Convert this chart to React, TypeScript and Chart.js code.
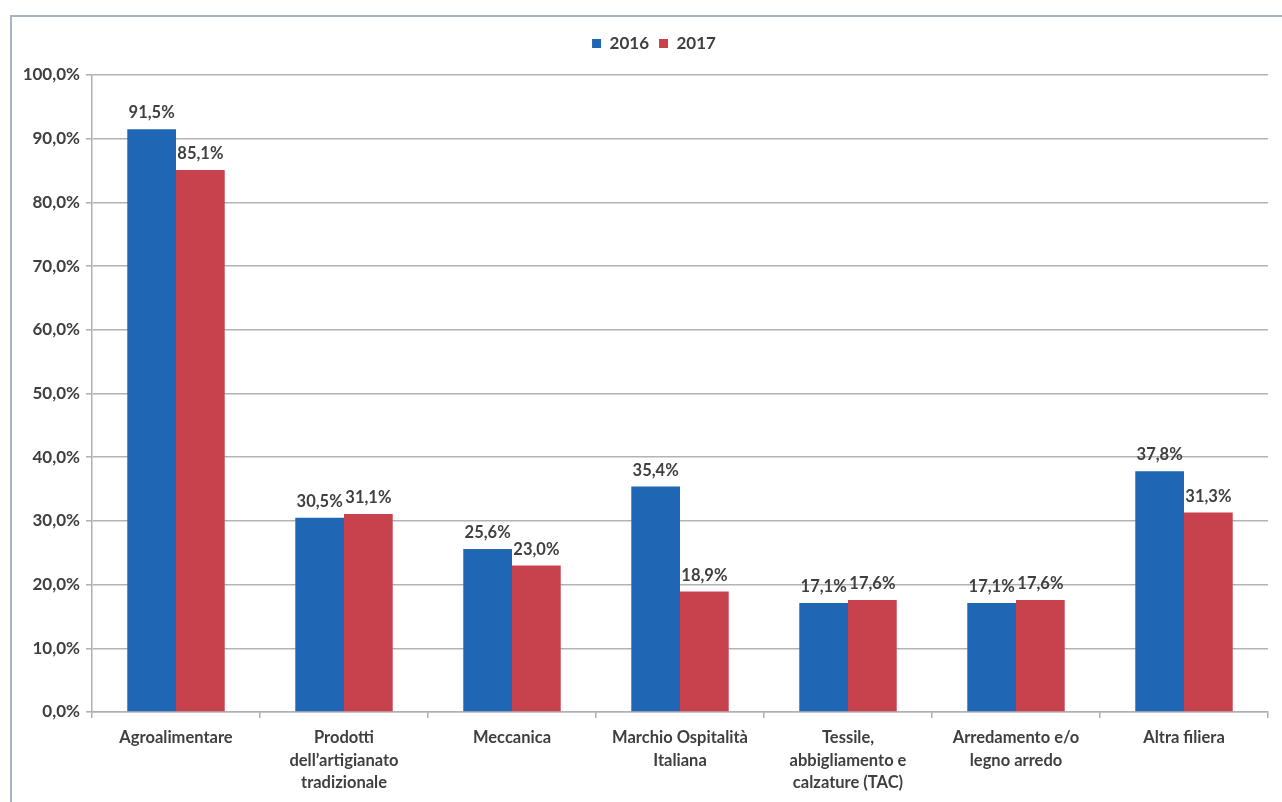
import React, { useEffect, useRef } from "react";
import { Chart, registerables } from "chart.js";

Chart.register(...registerables);

const categories: string[][] = [
  ["Agroalimentare"],
  ["Prodotti", "dell’artigianato", "tradizionale"],
  ["Meccanica"],
  ["Marchio Ospitalità", "Italiana"],
  ["Tessile,", "abbigliamento e", "calzature (TAC)"],
  ["Arredamento e/o", "legno arredo"],
  ["Altra filiera"],
];
const series2016: number[] = [91.5, 30.5, 25.6, 35.4, 17.1, 17.1, 37.8];
const series2017: number[] = [85.1, 31.1, 23.0, 18.9, 17.6, 17.6, 31.3];
const seriesNames = ["2016", "2017"];

const FONT = "Lato, 'Open Sans', sans-serif";
const TEXT = "#3f3f3f";
const fmt = (v: number) => v.toFixed(1).replace(".", ",") + "%";

const legendSpacer = {
  id: "legendSpacer",
  beforeInit(chart: any) {
    const legend = chart.legend;
    if (!legend) return;
    const orig = legend.fit;
    legend.fit = function () {
      orig.call(this);
      this.height += 13;
    };
  },
  afterLayout(chart: any) {
    const legend = chart.legend;
    if (!legend) return;
    legend.left += 20;
    legend.right += 20;
  },
};

const barLabels = {
  id: "barLabels",
  afterDatasetsDraw(chart: any) {
    const { ctx } = chart;
    ctx.save();
    ctx.font = `bold 16.5px ${FONT}`;
    ctx.fillStyle = TEXT;
    ctx.textAlign = "center";
    ctx.textBaseline = "bottom";
    chart.data.datasets.forEach((ds: any, i: number) => {
      const meta = chart.getDatasetMeta(i);
      meta.data.forEach((bar: any, j: number) => {
        ctx.fillText(fmt(ds.data[j]), bar.x, bar.y - 8);
      });
    });
    ctx.restore();
  },
};

export default function App() {
  const ref = useRef<HTMLCanvasElement | null>(null);

  useEffect(() => {
    document.body.style.margin = "0";
    if (!ref.current) return;
    const chart = new Chart(ref.current, {
      type: "bar",
      data: {
        labels: categories,
        datasets: [
          {
            label: seriesNames[0],
            data: series2016,
            backgroundColor: "#1f67b5",
            categoryPercentage: 0.58,
            barPercentage: 1,
          },
          {
            label: seriesNames[1],
            data: series2017,
            backgroundColor: "#c8424d",
            categoryPercentage: 0.58,
            barPercentage: 1,
          },
        ],
      },
      options: {
        responsive: false,
        animation: false,
        devicePixelRatio: 1,
        layout: { padding: { top: 25, left: 0, right: 14, bottom: 0 } },
        plugins: {
          legend: {
            position: "top",
            labels: {
              boxWidth: 9,
              boxHeight: 9,
              padding: 10,
              color: TEXT,
              font: { family: FONT, size: 17, weight: "bold" },
            },
          },
          tooltip: { enabled: false },
        },
        scales: {
          x: {
            afterFit: (s: any) => {
              s.height = 90;
            },
            grid: {
              offset: true,
              drawOnChartArea: false,
              drawTicks: true,
              tickLength: 6,
              color: "#b0b0b0",
              lineWidth: 1.5,
            },
            border: { color: "#b0b0b0", width: 1.5 },
            ticks: {
              padding: 9,
              color: TEXT,
              maxRotation: 0,
              autoSkip: false,
              font: { family: FONT, size: 16.5, weight: "bold", lineHeight: 1.35 },
            },
          },
          y: {
            min: 0,
            max: 100,
            afterFit: (s: any) => {
              s.width = 92;
            },
            grid: {
              color: "#b3b3b3",
              lineWidth: 1.6,
              tickLength: 6,
            },
            border: { color: "#b0b0b0", width: 1.5 },
            ticks: {
              stepSize: 10,
              padding: 6,
              color: TEXT,
              font: { family: FONT, size: 17, weight: "bold" },
              callback: (v: any) => fmt(Number(v)),
            },
          },
        },
      },
      plugins: [legendSpacer, barLabels],
    });
    return () => chart.destroy();
  }, []);

  return (
    <div style={{ position: "fixed", left: 0, top: 0, width: 1282, height: 802, background: "#fff", overflow: "hidden" }}>
      <div
        style={{
          position: "absolute",
          left: 10,
          top: 15,
          width: 1300,
          height: 800,
          borderTop: "2px solid #a9b3c3",
          borderLeft: "2px solid #a9b3c3",
        }}
      />
      <canvas ref={ref} width={1282} height={802} style={{ position: "absolute", left: 0, top: 0 }} />
    </div>
  );
}
